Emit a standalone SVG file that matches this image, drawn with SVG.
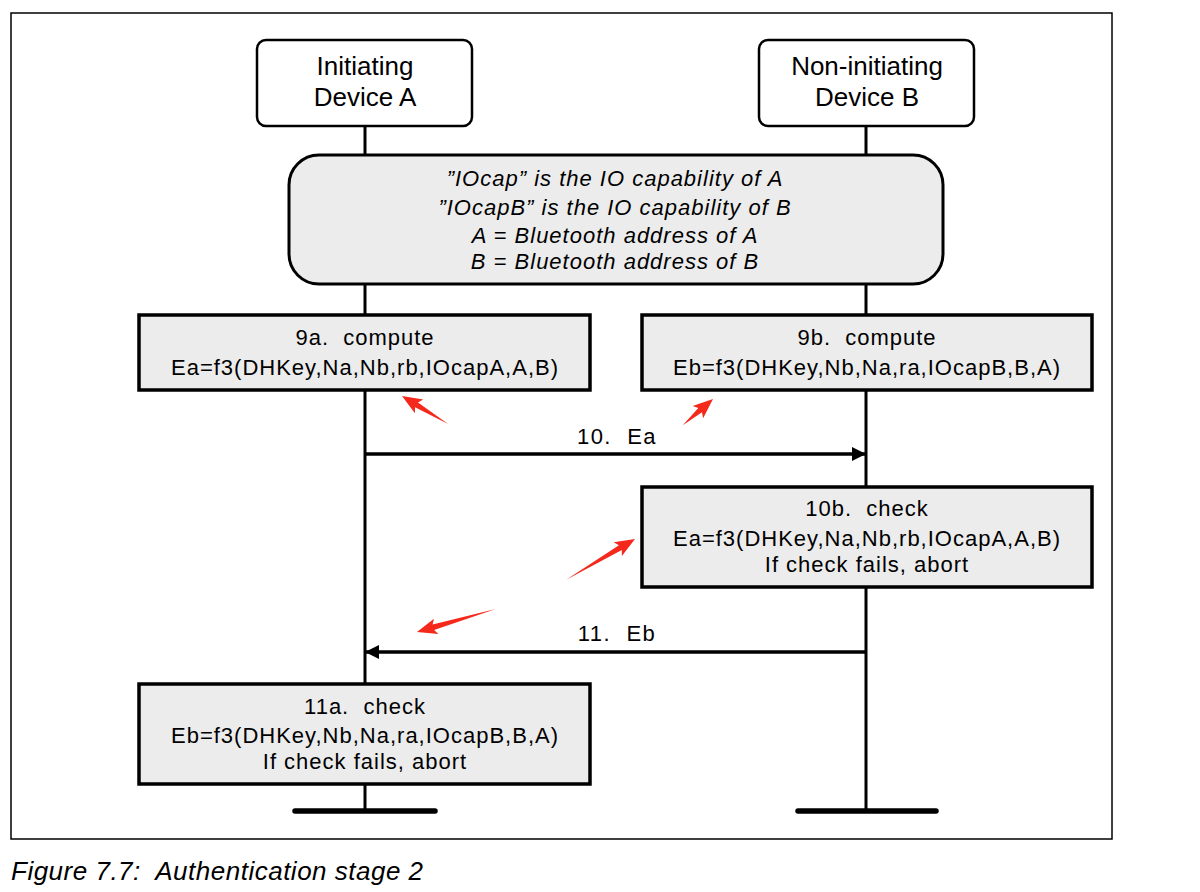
<svg xmlns="http://www.w3.org/2000/svg" width="1200" height="892" viewBox="0 0 1200 892">
<style>
.t{font-family:"Liberation Sans",Arial,sans-serif;font-size:22px;fill:#000;text-anchor:middle;letter-spacing:1px;white-space:pre}
.h{font-size:26px;letter-spacing:0}
.i{font-style:italic;letter-spacing:1px}
.hdr{fill:#fff;stroke:#000;stroke-width:2.5}
.box{fill:#ececec;stroke:#000;stroke-width:3.5}
.ll{stroke:#000;stroke-width:3;fill:none}
.end{stroke:#000;stroke-width:5.5;stroke-linecap:round}
.msg{stroke:#000;stroke-width:3.5;fill:none}
.red{fill:#f5281c}
</style>
<defs>
<marker id="ah" viewBox="0 0 10 10" refX="10" refY="5" markerWidth="4.5" markerHeight="4" markerUnits="strokeWidth" orient="auto">
<path d="M0,0 L10,5 L0,10 Z" fill="#000"/>
</marker>
</defs>
<rect x="11" y="13" width="1101" height="826" fill="#fff" stroke="#000" stroke-width="1.5"/>
<g id="lifelines">
<line class="ll" x1="365" y1="126" x2="365" y2="811"/>
<line class="ll" x1="866" y1="126" x2="866" y2="811"/>
<line class="end" x1="295" y1="811" x2="435" y2="811"/>
<line class="end" x1="798" y1="811" x2="936" y2="811"/>
</g>
<g id="deviceA">
<rect class="hdr" x="257" y="40" width="215" height="86" rx="9"/>
<text class="t h" x="365" y="75">Initiating</text>
<text class="t h" x="365" y="106">Device A</text>
</g>
<g id="deviceB">
<rect class="hdr" x="759" y="40" width="215" height="86" rx="9"/>
<text class="t h" x="867" y="75">Non-initiating</text>
<text class="t h" x="867" y="106">Device B</text>
</g>
<g id="note">
<rect x="289" y="155" width="654" height="129" rx="30" fill="#ececec" stroke="#000" stroke-width="3"/>
<text class="t i" x="615" y="186">”IOcap” is the IO capability of A</text>
<text class="t i" x="615" y="215">”IOcapB” is the IO capability of B</text>
<text class="t i" x="615" y="243">A = Bluetooth address of A</text>
<text class="t i" x="615" y="269">B = Bluetooth address of B</text>
</g>
<g id="step9a">
<rect class="box" x="139" y="315" width="451" height="75"/>
<text class="t" x="365" y="345">9a.  compute</text>
<text class="t" x="365" y="375">Ea=f3(DHKey,Na,Nb,rb,IOcapA,A,B)</text>
</g>
<g id="step9b">
<rect class="box" x="642" y="315" width="450" height="75"/>
<text class="t" x="867" y="345">9b.  compute</text>
<text class="t" x="867" y="375">Eb=f3(DHKey,Nb,Na,ra,IOcapB,B,A)</text>
</g>
<g id="step10b">
<rect class="box" x="642" y="487" width="450" height="100"/>
<text class="t" x="867" y="516">10b.  check</text>
<text class="t" x="867" y="546">Ea=f3(DHKey,Na,Nb,rb,IOcapA,A,B)</text>
<text class="t" x="867" y="572">If check fails, abort</text>
</g>
<g id="step11a">
<rect class="box" x="139" y="684" width="451" height="100"/>
<text class="t" x="365" y="714">11a.  check</text>
<text class="t" x="365" y="743">Eb=f3(DHKey,Nb,Na,ra,IOcapB,B,A)</text>
<text class="t" x="365" y="769">If check fails, abort</text>
</g>
<g id="connectors">
<line class="msg" x1="365" y1="454" x2="866" y2="454" marker-end="url(#ah)"/>
<text class="t" x="617" y="444" style="letter-spacing:1.5px">10.  Ea</text>
<line class="msg" x1="866" y1="652" x2="365" y2="652" marker-end="url(#ah)"/>
<text class="t" x="617" y="641" style="letter-spacing:1.5px">11.  Eb</text>
</g>
<g id="annotations">
<path class="red" transform="translate(402,396) rotate(-148.7)" d="M-54,0 L-17,-2.8 L-20,-8 L0,0 L-20,8 L-17,2.8 Z"/>
<path class="red" transform="translate(713,399) rotate(-40.9)" d="M-40,0 L-17,-2.8 L-20,-8 L0,0 L-20,8 L-17,2.8 Z"/>
<path class="red" transform="translate(635,539) rotate(-30.7)" d="M-80,0 L-17,-2.8 L-20,-8 L0,0 L-20,8 L-17,2.8 Z"/>
<path class="red" transform="translate(417,632) rotate(163.8)" d="M-82,0 L-17,-2.8 L-20,-8 L0,0 L-20,8 L-17,2.8 Z"/>
</g>
<text class="t i" x="11" y="880" style="text-anchor:start;font-size:26px;letter-spacing:0.5px">Figure 7.7:  Authentication stage 2</text>
</svg>
